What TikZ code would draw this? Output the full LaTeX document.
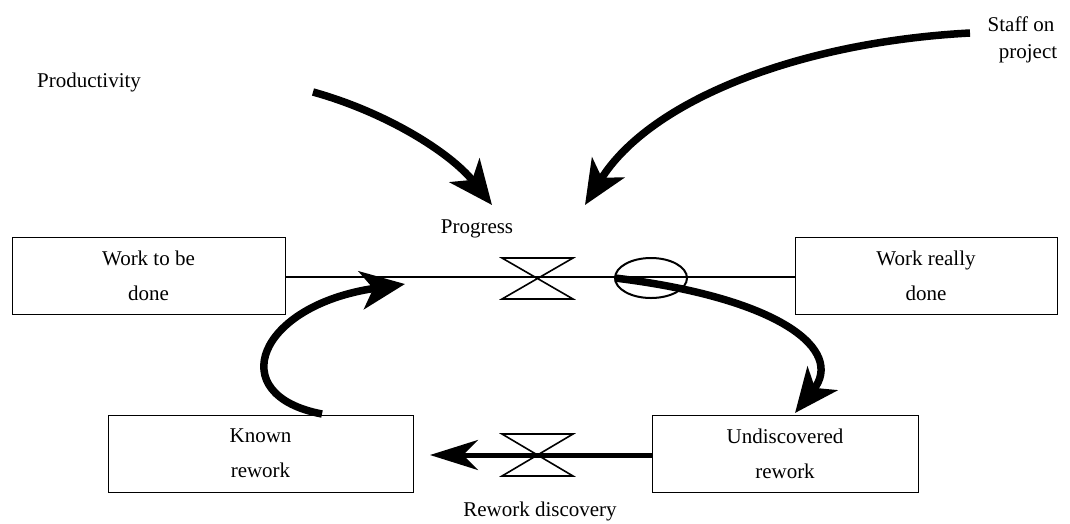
\documentclass[tikz,border=0pt]{standalone}
\usepackage{fontspec}
\setmainfont{Liberation Serif}
\usetikzlibrary{arrows.meta,shapes.geometric}
\begin{document}
\begin{tikzpicture}[x=1pt,y=-1pt,
  every node/.style={font=\fontsize{21}{35}\selectfont},
  stock/.style={draw,line width=1pt,minimum width=#1,minimum height=77pt,align=center,inner sep=0pt},
  pipe/.style={line width=1.6pt},
  valve/.style={line width=1.6pt},
  link/.style={line width=7.5pt,-{Stealth[length=44pt,width=38pt,inset=12pt]}},
  flowarrow/.style={line width=5pt,-{Stealth[length=48pt,width=30pt,inset=15pt]}}]
\useasboundingbox (0,0) rectangle (1070,523);

% stocks
\node[stock=273pt] (todo) at (148.5,275.5) {Work to be\\done};
\node[stock=262pt] (done) at (926,275.5) {Work really\\done};
\node[stock=305pt] (known) at (260.5,453.5) {Known\\rework};
\node[stock=266pt] (undisc) at (785,453.5) {Undiscovered\\rework};

% progress flow pipe with valve
\draw[pipe] (todo.east |- 0,277) coordinate (pipeA) -- (done.west |- 0,277) coordinate (pipeB);
\coordinate (pv) at (537,277);
\draw[valve] (502,258) -- (573,258) -- (502,299) -- (573,299) -- cycle;
\node[draw,ellipse,line width=2pt,minimum width=72pt,minimum height=40pt,inner sep=0pt] (split) at (651,278) {};

% rework discovery flow with valve
\draw[valve] (502,434) -- (573,434) -- (502,476) -- (573,476) -- cycle;
\coordinate (rwtip) at (430,455);
\draw[flowarrow] (undisc.west |- 0,455) -- (rwtip);

% labels
\node (prod) at (89,82) {Productivity};
\node (staff1) at (1021,24) {Staff on};
\node (staff2) at (1028,54) {project};
\node (progress) at (477,229) {Progress};
\node (rwd) at (540,511) {Rework discovery};

% influence links
\coordinate (prodS) at (313,92);
\coordinate (prodT) at (492,205);
\draw[link] (prodS) .. controls (385,112) and (450,152) .. (prodT);
\coordinate (staffS) at (970,33);
\coordinate (staffT) at (585,205);
\draw[link] (staffS) .. controls (800,42) and (650,100) .. (staffT);

% rework loop arrows
\coordinate (splitW) at (615,278);
\coordinate (undiscT) at (795,413);
\draw[link] (splitW) .. controls (780,298) and (845,350) .. (undiscT);
\coordinate (knownS) at (322,414);
\coordinate (todoT) at (405,284);
\draw[link] (knownS) .. controls (222,395) and (258,305) .. (todoT);
\end{tikzpicture}
\end{document}
